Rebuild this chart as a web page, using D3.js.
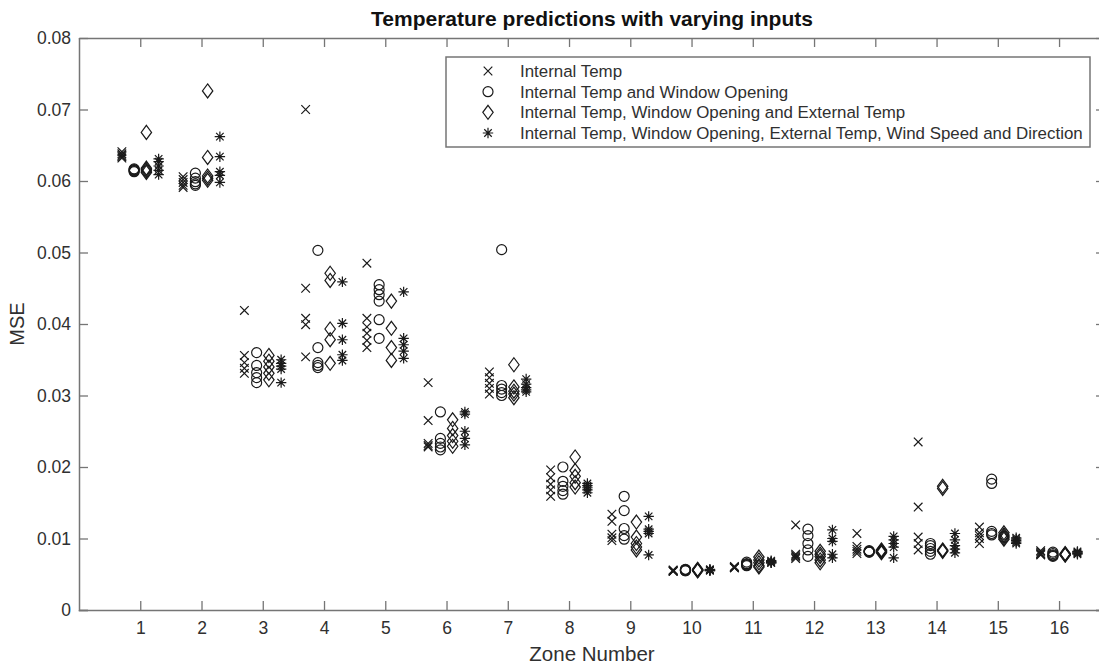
<!DOCTYPE html>
<html>
<head>
<meta charset="utf-8">
<script src="https://cdn.jsdelivr.net/npm/d3@7"></script>
<style>
  html, body { margin: 0; padding: 0; background: #fff; }
  svg { display: block; }
  text { font-family: "Liberation Sans", Arial, sans-serif; }
</style>
</head>
<body>
<svg id="chart" width="1099" height="668"></svg>
<script>
// Zone numbers along the x axis
const zones = [1, 2, 3, 4, 5, 6, 7, 8, 9, 10, 11, 12, 13, 14, 15, 16];

const seriesNames = [
  "Internal Temp",
  "Internal Temp and Window Opening",
  "Internal Temp, Window Opening and External Temp",
  "Internal Temp, Window Opening, External Temp, Wind Speed and Direction"
];

// MSE of each run, one inner list per zone
const internalTemp = [
  [0.0641, 0.0638, 0.0636, 0.0634, 0.0632],
  [0.0606, 0.0602, 0.0598, 0.0594, 0.0591],
  [0.0419, 0.0356, 0.0346, 0.0338, 0.0331],
  [0.0700, 0.0450, 0.0408, 0.0399, 0.0354],
  [0.0485, 0.0408, 0.0396, 0.0387, 0.0377, 0.0367],
  [0.0318, 0.0265, 0.0233, 0.0230, 0.0228],
  [0.0333, 0.0325, 0.0317, 0.0310, 0.0302],
  [0.0196, 0.0185, 0.0176, 0.0168, 0.0159],
  [0.0134, 0.0124, 0.0106, 0.0101, 0.0097],
  [0.0056, 0.0055, 0.0055, 0.0054, 0.0054],
  [0.0061, 0.0060, 0.0060, 0.0059, 0.0059],
  [0.0119, 0.0078, 0.0076, 0.0074, 0.0072],
  [0.0107, 0.0089, 0.0085, 0.0082, 0.0079],
  [0.0235, 0.0144, 0.0102, 0.0093, 0.0084],
  [0.0116, 0.0108, 0.0104, 0.0100, 0.0093],
  [0.0083, 0.0081, 0.0079, 0.0078, 0.0077]
];

const tempWindow = [
  [0.0617, 0.0616, 0.0615, 0.0614, 0.0613],
  [0.0611, 0.0604, 0.0599, 0.0596, 0.0594],
  [0.0360, 0.0342, 0.0332, 0.0325, 0.0318],
  [0.0503, 0.0367, 0.0346, 0.0342, 0.0339],
  [0.0455, 0.0448, 0.0441, 0.0432, 0.0406, 0.0380],
  [0.0277, 0.0240, 0.0233, 0.0228, 0.0224],
  [0.0504, 0.0314, 0.0309, 0.0304, 0.0300],
  [0.0200, 0.0180, 0.0173, 0.0167, 0.0162],
  [0.0159, 0.0139, 0.0114, 0.0104, 0.0099],
  [0.0057, 0.0056, 0.0056, 0.0055, 0.0055],
  [0.0067, 0.0065, 0.0064, 0.0063, 0.0062],
  [0.0113, 0.0104, 0.0093, 0.0084, 0.0075],
  [0.0083, 0.0082, 0.0082, 0.0081, 0.0081],
  [0.0093, 0.0090, 0.0086, 0.0082, 0.0078],
  [0.0183, 0.0177, 0.0110, 0.0107, 0.0105],
  [0.0081, 0.0079, 0.0077, 0.0076, 0.0075]
];

const tempWindowExternal = [
  [0.0668, 0.0618, 0.0616, 0.0614, 0.0612],
  [0.0726, 0.0633, 0.0607, 0.0604, 0.0601],
  [0.0356, 0.0348, 0.0340, 0.0331, 0.0322],
  [0.0471, 0.0461, 0.0393, 0.0378, 0.0345],
  [0.0432, 0.0394, 0.0367, 0.0349],
  [0.0266, 0.0254, 0.0244, 0.0236, 0.0229],
  [0.0343, 0.0312, 0.0306, 0.0302, 0.0297],
  [0.0214, 0.0195, 0.0187, 0.0178, 0.0172],
  [0.0123, 0.0102, 0.0093, 0.0088, 0.0084],
  [0.0057, 0.0056, 0.0056, 0.0055, 0.0055],
  [0.0074, 0.0070, 0.0066, 0.0062, 0.0060],
  [0.0082, 0.0078, 0.0075, 0.0070, 0.0066],
  [0.0084, 0.0083, 0.0082, 0.0081, 0.0080],
  [0.0173, 0.0170, 0.0084, 0.0083, 0.0082],
  [0.0108, 0.0105, 0.0103, 0.0101, 0.0099],
  [0.0079, 0.0078, 0.0078, 0.0077, 0.0077]
];

const tempWindowExternalWind = [
  [0.0631, 0.0627, 0.0621, 0.0615, 0.0609],
  [0.0662, 0.0634, 0.0613, 0.0608, 0.0598],
  [0.0350, 0.0345, 0.0341, 0.0337, 0.0318],
  [0.0459, 0.0401, 0.0378, 0.0357, 0.0349],
  [0.0445, 0.0380, 0.0371, 0.0362, 0.0352],
  [0.0277, 0.0274, 0.0250, 0.0240, 0.0231],
  [0.0323, 0.0316, 0.0311, 0.0308, 0.0305],
  [0.0177, 0.0174, 0.0171, 0.0168, 0.0164],
  [0.0131, 0.0113, 0.0110, 0.0107, 0.0077],
  [0.0057, 0.0056, 0.0056, 0.0055, 0.0055],
  [0.0069, 0.0068, 0.0067, 0.0066, 0.0066],
  [0.0112, 0.0100, 0.0096, 0.0078, 0.0073],
  [0.0103, 0.0098, 0.0093, 0.0088, 0.0073],
  [0.0107, 0.0098, 0.0090, 0.0085, 0.0080],
  [0.0101, 0.0099, 0.0097, 0.0095, 0.0093],
  [0.0082, 0.0081, 0.0080, 0.0079, 0.0078]
];

const yTicks = [0, 0.01, 0.02, 0.03, 0.04, 0.05, 0.06, 0.07, 0.08];
const yTickLabels = ["0", "0.01", "0.02", "0.03", "0.04", "0.05", "0.06", "0.07", "0.08"];

const titleText = "Temperature predictions with varying inputs";
const xLabel = "Zone Number";
const yLabel = "MSE";

// ---- layout ----
const svg = d3.select("#chart");
const plot = { left: 79, right: 1105, top: 38, bottom: 610 };
const axisColor = "#757575";
const textColor = "#303030";
const markColor = "#1a1a1a";

const x = d3.scaleLinear().domain([0, 16.75]).range([plot.left, plot.right]);
const y = d3.scaleLinear().domain([0, 0.08]).range([plot.bottom, plot.top]);

// ---- marker shapes (MATLAB style) ----
function pathTimes(r) {
  const p = d3.path();
  p.moveTo(-r, -r); p.lineTo(r, r);
  p.moveTo(-r, r); p.lineTo(r, -r);
  return p.toString();
}
function pathCircle(r) {
  const p = d3.path();
  p.moveTo(r, 0); p.arc(0, 0, r, 0, 2 * Math.PI);
  return p.toString();
}
function pathDiamond(w, h) {
  const p = d3.path();
  p.moveTo(0, -h); p.lineTo(w, 0); p.lineTo(0, h); p.lineTo(-w, 0); p.closePath();
  return p.toString();
}
function pathAsterisk(r) {
  const p = d3.path();
  const d = r * 0.72;
  p.moveTo(0, -r); p.lineTo(0, r);
  p.moveTo(-r, 0); p.lineTo(r, 0);
  p.moveTo(-d, -d); p.lineTo(d, d);
  p.moveTo(-d, d); p.lineTo(d, -d);
  return p.toString();
}

const series = [
  { values: internalTemp, offset: -0.3, shape: pathTimes(4.3) },
  { values: tempWindow, offset: -0.1, shape: pathCircle(5) },
  { values: tempWindowExternal, offset: 0.1, shape: pathDiamond(5.2, 7) },
  { values: tempWindowExternalWind, offset: 0.3, shape: pathAsterisk(5.2) }
];

// ---- axes box ----
const axes = svg.append("g");

const bottomAxis = d3.axisBottom(x).tickValues(zones).tickSize(-9).tickPadding(12).tickFormat(d3.format("d"));
const topAxis = d3.axisTop(x).tickValues(zones).tickSize(-9).tickFormat("");
const leftAxis = d3.axisLeft(y).tickValues(yTicks).tickSize(-9).tickPadding(8)
  .tickFormat((d, i) => yTickLabels[i]);
const rightAxis = d3.axisRight(y).tickValues(yTicks).tickSize(-9).tickFormat("");

function styleAxis(g) {
  g.select(".domain").attr("stroke", axisColor).attr("stroke-width", 1.5);
  g.selectAll(".tick line").attr("stroke", axisColor).attr("stroke-width", 1.3);
  g.selectAll(".tick text").attr("fill", textColor).attr("font-size", 17.5)
    .attr("font-family", "'Liberation Sans', Arial, sans-serif");
}

axes.append("g").attr("transform", `translate(0,${plot.bottom})`).call(bottomAxis).call(styleAxis);
axes.append("g").attr("transform", `translate(0,${plot.top})`).call(topAxis).call(styleAxis);
axes.append("g").attr("transform", `translate(${plot.left},0)`).call(leftAxis).call(styleAxis);
axes.append("g").attr("transform", `translate(${plot.right},0)`).call(rightAxis).call(styleAxis);

// d3 axes draw the outer tick ends of the domain path; keep them flat
axes.selectAll(".domain").attr("d", function () {
  return d3.select(this).attr("d").replace(/[VH]-?9(?=[VH]|$)/g, "").replace(/M([\d.]+),(-?9)/, "M$1,0");
});

// ---- markers ----
const marks = svg.append("g");
series.forEach(s => {
  const pts = [];
  s.values.forEach((vals, zi) => vals.forEach(v => pts.push({ zone: zones[zi], v })));
  marks.append("g").selectAll("path")
    .data(pts)
    .join("path")
    .attr("transform", d => `translate(${x(d.zone + s.offset)},${y(d.v)})`)
    .attr("d", s.shape)
    .attr("fill", "none")
    .attr("stroke", markColor)
    .attr("stroke-width", 1.2);
});

// ---- title and axis labels ----
svg.append("text")
  .attr("x", (plot.left + plot.right) / 2).attr("y", 26)
  .attr("text-anchor", "middle").attr("font-size", 21).attr("font-weight", "bold")
  .attr("fill", "#111").text(titleText);

svg.append("text")
  .attr("x", (plot.left + plot.right) / 2).attr("y", 661)
  .attr("text-anchor", "middle").attr("font-size", 20.5).attr("fill", textColor)
  .text(xLabel);

svg.append("text")
  .attr("transform", `translate(24,${(plot.top + plot.bottom) / 2}) rotate(-90)`)
  .attr("text-anchor", "middle").attr("font-size", 20).attr("fill", textColor)
  .text(yLabel);

// ---- legend ----
const legend = svg.append("g");
legend.append("rect")
  .attr("x", 446).attr("y", 57).attr("width", 644).attr("height", 90)
  .attr("fill", "#fff").attr("stroke", axisColor).attr("stroke-width", 1.5);

const rowY = d3.scaleLinear().domain([0, 3]).range([71, 133]);
series.forEach((s, i) => {
  legend.append("path")
    .attr("transform", `translate(488,${rowY(i)})`)
    .attr("d", s.shape).attr("fill", "none").attr("stroke", markColor).attr("stroke-width", 1.2);
  legend.append("text")
    .attr("x", 520).attr("y", rowY(i)).attr("dy", "0.35em")
    .attr("font-size", 16.9).attr("fill", textColor)
    .text(seriesNames[i]);
});
</script>
</body>
</html>
